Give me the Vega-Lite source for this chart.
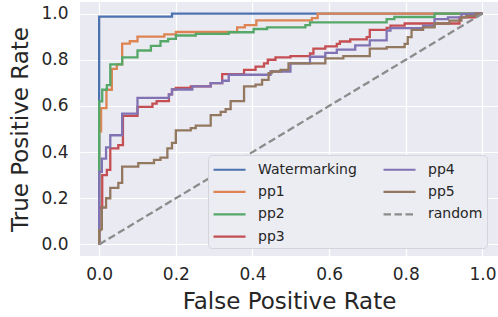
{
  "$schema": "https://vega.github.io/schema/vega-lite/v6.json",
  "width": 418,
  "height": 254,
  "autosize": {"type": "none"},
  "padding": {"left": 80, "top": 2, "right": 0, "bottom": 61},
  "background": "white",
  "config": {
    "view": {"fill": "#eaeaf2", "stroke": null},
    "font": "DejaVu Sans",
    "axis": {
      "domain": false, "ticks": false, "grid": true, "gridColor": "white", "gridWidth": 1.2,
      "labelFont": "DejaVu Sans", "labelFontSize": 17, "labelColor": "#262626",
      "titleFont": "DejaVu Sans", "titleFontSize": 23, "titleFontWeight": "normal", "titleColor": "#262626"
    },
    "legend": {
      "orient": "none", "legendX": 128, "legendY": 153, "columns": 2,
      "symbolType": "M-1,0H2.56", "symbolSize": 324, "symbolStrokeWidth": 2.2,
      "labelFont": "DejaVu Sans", "labelFontSize": 14, "labelColor": "#262626",
      "fillColor": "#ececf3", "strokeColor": "#d4d4dc", "cornerRadius": 4,
      "padding": 4, "rowPadding": 4.4, "columnPadding": 22, "labelOffset": 25
    }
  },
  "data": {"values": [
    {"series":"Watermarking","fpr":0,"tpr":0},{"series":"Watermarking","fpr":0,"tpr":0.987},{"series":"Watermarking","fpr":0.19,"tpr":0.987},{"series":"Watermarking","fpr":0.19,"tpr":1.0},{"series":"Watermarking","fpr":1,"tpr":1},

    {"series":"pp1","fpr":0,"tpr":0},{"series":"pp1","fpr":0,"tpr":0.49},{"series":"pp1","fpr":0.005,"tpr":0.49},{"series":"pp1","fpr":0.005,"tpr":0.59},{"series":"pp1","fpr":0.019,"tpr":0.59},{"series":"pp1","fpr":0.019,"tpr":0.67},{"series":"pp1","fpr":0.033,"tpr":0.67},{"series":"pp1","fpr":0.033,"tpr":0.76},{"series":"pp1","fpr":0.046,"tpr":0.76},{"series":"pp1","fpr":0.046,"tpr":0.78},{"series":"pp1","fpr":0.06,"tpr":0.78},{"series":"pp1","fpr":0.06,"tpr":0.87},{"series":"pp1","fpr":0.08,"tpr":0.87},{"series":"pp1","fpr":0.08,"tpr":0.88},{"series":"pp1","fpr":0.10,"tpr":0.88},{"series":"pp1","fpr":0.10,"tpr":0.90},{"series":"pp1","fpr":0.17,"tpr":0.90},{"series":"pp1","fpr":0.17,"tpr":0.91},{"series":"pp1","fpr":0.20,"tpr":0.91},{"series":"pp1","fpr":0.20,"tpr":0.92},{"series":"pp1","fpr":0.36,"tpr":0.92},{"series":"pp1","fpr":0.36,"tpr":0.94},{"series":"pp1","fpr":0.38,"tpr":0.94},{"series":"pp1","fpr":0.38,"tpr":0.95},{"series":"pp1","fpr":0.41,"tpr":0.95},{"series":"pp1","fpr":0.41,"tpr":0.97},{"series":"pp1","fpr":0.555,"tpr":0.97},{"series":"pp1","fpr":0.555,"tpr":0.98},{"series":"pp1","fpr":0.57,"tpr":0.98},{"series":"pp1","fpr":0.57,"tpr":1.0},{"series":"pp1","fpr":1,"tpr":1},

    {"series":"pp2","fpr":0,"tpr":0},{"series":"pp2","fpr":0,"tpr":0.62},{"series":"pp2","fpr":0.008,"tpr":0.62},{"series":"pp2","fpr":0.008,"tpr":0.67},{"series":"pp2","fpr":0.02,"tpr":0.67},{"series":"pp2","fpr":0.02,"tpr":0.69},{"series":"pp2","fpr":0.029,"tpr":0.69},{"series":"pp2","fpr":0.029,"tpr":0.78},{"series":"pp2","fpr":0.06,"tpr":0.78},{"series":"pp2","fpr":0.06,"tpr":0.81},{"series":"pp2","fpr":0.10,"tpr":0.81},{"series":"pp2","fpr":0.10,"tpr":0.84},{"series":"pp2","fpr":0.135,"tpr":0.84},{"series":"pp2","fpr":0.135,"tpr":0.86},{"series":"pp2","fpr":0.16,"tpr":0.86},{"series":"pp2","fpr":0.16,"tpr":0.88},{"series":"pp2","fpr":0.18,"tpr":0.88},{"series":"pp2","fpr":0.18,"tpr":0.89},{"series":"pp2","fpr":0.2,"tpr":0.89},{"series":"pp2","fpr":0.2,"tpr":0.905},{"series":"pp2","fpr":0.252,"tpr":0.905},{"series":"pp2","fpr":0.252,"tpr":0.912},{"series":"pp2","fpr":0.338,"tpr":0.912},{"series":"pp2","fpr":0.338,"tpr":0.919},{"series":"pp2","fpr":0.403,"tpr":0.919},{"series":"pp2","fpr":0.403,"tpr":0.933},{"series":"pp2","fpr":0.438,"tpr":0.933},{"series":"pp2","fpr":0.438,"tpr":0.94},{"series":"pp2","fpr":0.538,"tpr":0.94},{"series":"pp2","fpr":0.538,"tpr":0.95},{"series":"pp2","fpr":0.55,"tpr":0.95},{"series":"pp2","fpr":0.55,"tpr":0.962},{"series":"pp2","fpr":0.75,"tpr":0.962},{"series":"pp2","fpr":0.75,"tpr":0.976},{"series":"pp2","fpr":0.77,"tpr":0.976},{"series":"pp2","fpr":0.77,"tpr":0.985},{"series":"pp2","fpr":0.875,"tpr":0.985},{"series":"pp2","fpr":0.875,"tpr":1.0},{"series":"pp2","fpr":1,"tpr":1},

    {"series":"pp3","fpr":0,"tpr":0},{"series":"pp3","fpr":0,"tpr":0.16},{"series":"pp3","fpr":0.008,"tpr":0.16},{"series":"pp3","fpr":0.008,"tpr":0.30},{"series":"pp3","fpr":0.02,"tpr":0.30},{"series":"pp3","fpr":0.02,"tpr":0.323},{"series":"pp3","fpr":0.029,"tpr":0.323},{"series":"pp3","fpr":0.029,"tpr":0.416},{"series":"pp3","fpr":0.05,"tpr":0.416},{"series":"pp3","fpr":0.05,"tpr":0.43},{"series":"pp3","fpr":0.062,"tpr":0.43},{"series":"pp3","fpr":0.062,"tpr":0.557},{"series":"pp3","fpr":0.10,"tpr":0.557},{"series":"pp3","fpr":0.10,"tpr":0.596},{"series":"pp3","fpr":0.139,"tpr":0.596},{"series":"pp3","fpr":0.139,"tpr":0.61},{"series":"pp3","fpr":0.15,"tpr":0.61},{"series":"pp3","fpr":0.15,"tpr":0.621},{"series":"pp3","fpr":0.182,"tpr":0.621},{"series":"pp3","fpr":0.182,"tpr":0.65},{"series":"pp3","fpr":0.19,"tpr":0.65},{"series":"pp3","fpr":0.19,"tpr":0.671},{"series":"pp3","fpr":0.2,"tpr":0.671},{"series":"pp3","fpr":0.2,"tpr":0.678},{"series":"pp3","fpr":0.239,"tpr":0.678},{"series":"pp3","fpr":0.239,"tpr":0.685},{"series":"pp3","fpr":0.291,"tpr":0.685},{"series":"pp3","fpr":0.291,"tpr":0.699},{"series":"pp3","fpr":0.321,"tpr":0.699},{"series":"pp3","fpr":0.321,"tpr":0.738},{"series":"pp3","fpr":0.378,"tpr":0.738},{"series":"pp3","fpr":0.378,"tpr":0.756},{"series":"pp3","fpr":0.408,"tpr":0.756},{"series":"pp3","fpr":0.408,"tpr":0.77},{"series":"pp3","fpr":0.43,"tpr":0.77},{"series":"pp3","fpr":0.43,"tpr":0.784},{"series":"pp3","fpr":0.44,"tpr":0.784},{"series":"pp3","fpr":0.44,"tpr":0.80},{"series":"pp3","fpr":0.46,"tpr":0.80},{"series":"pp3","fpr":0.46,"tpr":0.81},{"series":"pp3","fpr":0.499,"tpr":0.81},{"series":"pp3","fpr":0.499,"tpr":0.816},{"series":"pp3","fpr":0.55,"tpr":0.816},{"series":"pp3","fpr":0.55,"tpr":0.827},{"series":"pp3","fpr":0.559,"tpr":0.827},{"series":"pp3","fpr":0.559,"tpr":0.848},{"series":"pp3","fpr":0.59,"tpr":0.848},{"series":"pp3","fpr":0.59,"tpr":0.858},{"series":"pp3","fpr":0.62,"tpr":0.858},{"series":"pp3","fpr":0.62,"tpr":0.869},{"series":"pp3","fpr":0.628,"tpr":0.869},{"series":"pp3","fpr":0.628,"tpr":0.879},{"series":"pp3","fpr":0.655,"tpr":0.879},{"series":"pp3","fpr":0.655,"tpr":0.888},{"series":"pp3","fpr":0.698,"tpr":0.888},{"series":"pp3","fpr":0.698,"tpr":0.898},{"series":"pp3","fpr":0.706,"tpr":0.898},{"series":"pp3","fpr":0.706,"tpr":0.929},{"series":"pp3","fpr":0.75,"tpr":0.929},{"series":"pp3","fpr":0.75,"tpr":0.938},{"series":"pp3","fpr":0.76,"tpr":0.938},{"series":"pp3","fpr":0.76,"tpr":0.948},{"series":"pp3","fpr":0.797,"tpr":0.948},{"series":"pp3","fpr":0.797,"tpr":0.957},{"series":"pp3","fpr":0.94,"tpr":0.957},{"series":"pp3","fpr":0.94,"tpr":0.983},{"series":"pp3","fpr":0.98,"tpr":0.983},{"series":"pp3","fpr":0.98,"tpr":1.0},{"series":"pp3","fpr":1,"tpr":1},

    {"series":"pp4","fpr":0,"tpr":0},{"series":"pp4","fpr":0,"tpr":0.314},{"series":"pp4","fpr":0.007,"tpr":0.314},{"series":"pp4","fpr":0.007,"tpr":0.372},{"series":"pp4","fpr":0.018,"tpr":0.372},{"series":"pp4","fpr":0.018,"tpr":0.42},{"series":"pp4","fpr":0.029,"tpr":0.42},{"series":"pp4","fpr":0.029,"tpr":0.473},{"series":"pp4","fpr":0.06,"tpr":0.473},{"series":"pp4","fpr":0.06,"tpr":0.567},{"series":"pp4","fpr":0.10,"tpr":0.567},{"series":"pp4","fpr":0.10,"tpr":0.635},{"series":"pp4","fpr":0.182,"tpr":0.635},{"series":"pp4","fpr":0.182,"tpr":0.65},{"series":"pp4","fpr":0.19,"tpr":0.65},{"series":"pp4","fpr":0.19,"tpr":0.671},{"series":"pp4","fpr":0.243,"tpr":0.671},{"series":"pp4","fpr":0.243,"tpr":0.685},{"series":"pp4","fpr":0.291,"tpr":0.685},{"series":"pp4","fpr":0.291,"tpr":0.699},{"series":"pp4","fpr":0.321,"tpr":0.699},{"series":"pp4","fpr":0.321,"tpr":0.709},{"series":"pp4","fpr":0.338,"tpr":0.709},{"series":"pp4","fpr":0.338,"tpr":0.735},{"series":"pp4","fpr":0.447,"tpr":0.735},{"series":"pp4","fpr":0.447,"tpr":0.749},{"series":"pp4","fpr":0.499,"tpr":0.749},{"series":"pp4","fpr":0.499,"tpr":0.784},{"series":"pp4","fpr":0.55,"tpr":0.784},{"series":"pp4","fpr":0.55,"tpr":0.813},{"series":"pp4","fpr":0.59,"tpr":0.813},{"series":"pp4","fpr":0.59,"tpr":0.83},{"series":"pp4","fpr":0.62,"tpr":0.83},{"series":"pp4","fpr":0.62,"tpr":0.844},{"series":"pp4","fpr":0.668,"tpr":0.844},{"series":"pp4","fpr":0.668,"tpr":0.862},{"series":"pp4","fpr":0.706,"tpr":0.862},{"series":"pp4","fpr":0.706,"tpr":0.884},{"series":"pp4","fpr":0.75,"tpr":0.884},{"series":"pp4","fpr":0.75,"tpr":0.926},{"series":"pp4","fpr":0.76,"tpr":0.926},{"series":"pp4","fpr":0.76,"tpr":0.937},{"series":"pp4","fpr":0.845,"tpr":0.937},{"series":"pp4","fpr":0.845,"tpr":0.948},{"series":"pp4","fpr":0.875,"tpr":0.948},{"series":"pp4","fpr":0.875,"tpr":0.976},{"series":"pp4","fpr":0.91,"tpr":0.976},{"series":"pp4","fpr":0.91,"tpr":0.983},{"series":"pp4","fpr":0.945,"tpr":0.983},{"series":"pp4","fpr":0.945,"tpr":0.997},{"series":"pp4","fpr":1,"tpr":1},

    {"series":"pp5","fpr":0,"tpr":0},{"series":"pp5","fpr":0,"tpr":0.062},{"series":"pp5","fpr":0.007,"tpr":0.062},{"series":"pp5","fpr":0.007,"tpr":0.16},{"series":"pp5","fpr":0.018,"tpr":0.16},{"series":"pp5","fpr":0.018,"tpr":0.2},{"series":"pp5","fpr":0.029,"tpr":0.2},{"series":"pp5","fpr":0.029,"tpr":0.245},{"series":"pp5","fpr":0.05,"tpr":0.245},{"series":"pp5","fpr":0.05,"tpr":0.267},{"series":"pp5","fpr":0.06,"tpr":0.267},{"series":"pp5","fpr":0.06,"tpr":0.337},{"series":"pp5","fpr":0.102,"tpr":0.337},{"series":"pp5","fpr":0.102,"tpr":0.352},{"series":"pp5","fpr":0.143,"tpr":0.352},{"series":"pp5","fpr":0.143,"tpr":0.366},{"series":"pp5","fpr":0.16,"tpr":0.366},{"series":"pp5","fpr":0.16,"tpr":0.376},{"series":"pp5","fpr":0.178,"tpr":0.376},{"series":"pp5","fpr":0.178,"tpr":0.416},{"series":"pp5","fpr":0.19,"tpr":0.416},{"series":"pp5","fpr":0.19,"tpr":0.44},{"series":"pp5","fpr":0.2,"tpr":0.44},{"series":"pp5","fpr":0.2,"tpr":0.494},{"series":"pp5","fpr":0.239,"tpr":0.494},{"series":"pp5","fpr":0.239,"tpr":0.504},{"series":"pp5","fpr":0.252,"tpr":0.504},{"series":"pp5","fpr":0.252,"tpr":0.515},{"series":"pp5","fpr":0.291,"tpr":0.515},{"series":"pp5","fpr":0.291,"tpr":0.56},{"series":"pp5","fpr":0.317,"tpr":0.56},{"series":"pp5","fpr":0.317,"tpr":0.574},{"series":"pp5","fpr":0.33,"tpr":0.574},{"series":"pp5","fpr":0.33,"tpr":0.586},{"series":"pp5","fpr":0.343,"tpr":0.586},{"series":"pp5","fpr":0.343,"tpr":0.621},{"series":"pp5","fpr":0.378,"tpr":0.621},{"series":"pp5","fpr":0.378,"tpr":0.685},{"series":"pp5","fpr":0.408,"tpr":0.685},{"series":"pp5","fpr":0.408,"tpr":0.692},{"series":"pp5","fpr":0.425,"tpr":0.692},{"series":"pp5","fpr":0.425,"tpr":0.713},{"series":"pp5","fpr":0.442,"tpr":0.713},{"series":"pp5","fpr":0.442,"tpr":0.742},{"series":"pp5","fpr":0.45,"tpr":0.742},{"series":"pp5","fpr":0.45,"tpr":0.749},{"series":"pp5","fpr":0.473,"tpr":0.749},{"series":"pp5","fpr":0.473,"tpr":0.756},{"series":"pp5","fpr":0.494,"tpr":0.756},{"series":"pp5","fpr":0.494,"tpr":0.784},{"series":"pp5","fpr":0.59,"tpr":0.784},{"series":"pp5","fpr":0.59,"tpr":0.806},{"series":"pp5","fpr":0.637,"tpr":0.806},{"series":"pp5","fpr":0.637,"tpr":0.816},{"series":"pp5","fpr":0.706,"tpr":0.816},{"series":"pp5","fpr":0.706,"tpr":0.848},{"series":"pp5","fpr":0.75,"tpr":0.848},{"series":"pp5","fpr":0.75,"tpr":0.855},{"series":"pp5","fpr":0.797,"tpr":0.855},{"series":"pp5","fpr":0.797,"tpr":0.869},{"series":"pp5","fpr":0.805,"tpr":0.869},{"series":"pp5","fpr":0.805,"tpr":0.898},{"series":"pp5","fpr":0.815,"tpr":0.898},{"series":"pp5","fpr":0.815,"tpr":0.929},{"series":"pp5","fpr":0.845,"tpr":0.929},{"series":"pp5","fpr":0.845,"tpr":0.94},{"series":"pp5","fpr":0.875,"tpr":0.94},{"series":"pp5","fpr":0.875,"tpr":0.957},{"series":"pp5","fpr":0.914,"tpr":0.957},{"series":"pp5","fpr":0.914,"tpr":0.969},{"series":"pp5","fpr":0.945,"tpr":0.969},{"series":"pp5","fpr":0.945,"tpr":0.983},{"series":"pp5","fpr":0.958,"tpr":0.983},{"series":"pp5","fpr":0.958,"tpr":0.99},{"series":"pp5","fpr":0.984,"tpr":0.99},{"series":"pp5","fpr":0.984,"tpr":1.0},{"series":"pp5","fpr":1,"tpr":1},

    {"series":"random","fpr":0,"tpr":0},{"series":"random","fpr":1,"tpr":1}
  ]},
  "mark": {"type": "line", "strokeWidth": 2.3, "clip": true},
  "encoding": {
    "x": {"field": "fpr", "type": "quantitative", "scale": {"domain": [-0.05, 1.0405], "nice": false, "zero": false},
          "axis": {"values": [0, 0.2, 0.4, 0.6, 0.8, 1.0], "format": ".1f", "title": "False Positive Rate", "labelPadding": 10, "titlePadding": 8}},
    "y": {"field": "tpr", "type": "quantitative", "scale": {"domain": [-0.05, 1.05], "nice": false, "zero": false},
          "axis": {"values": [0, 0.2, 0.4, 0.6, 0.8, 1.0], "format": ".1f", "title": "True Positive Rate", "labelPadding": 12, "titlePadding": 8}},
    "color": {"field": "series", "type": "nominal", "title": null,
      "scale": {"domain": ["Watermarking", "pp1", "pp2", "pp3", "pp4", "pp5", "random"],
                "range": ["#4c72b0", "#dd8452", "#55a868", "#c44e52", "#8172b3", "#937860", "#8c8c8c"]}},
    "strokeDash": {"field": "series", "type": "nominal", "title": null,
      "scale": {"domain": ["Watermarking", "pp1", "pp2", "pp3", "pp4", "pp5", "random"],
                "range": [[1, 0], [1, 0], [1, 0], [1, 0], [1, 0], [1, 0], [7.5, 3.5]]}},
    "order": [{"field": "fpr", "type": "quantitative"}, {"field": "tpr", "type": "quantitative"}]
  }
}
